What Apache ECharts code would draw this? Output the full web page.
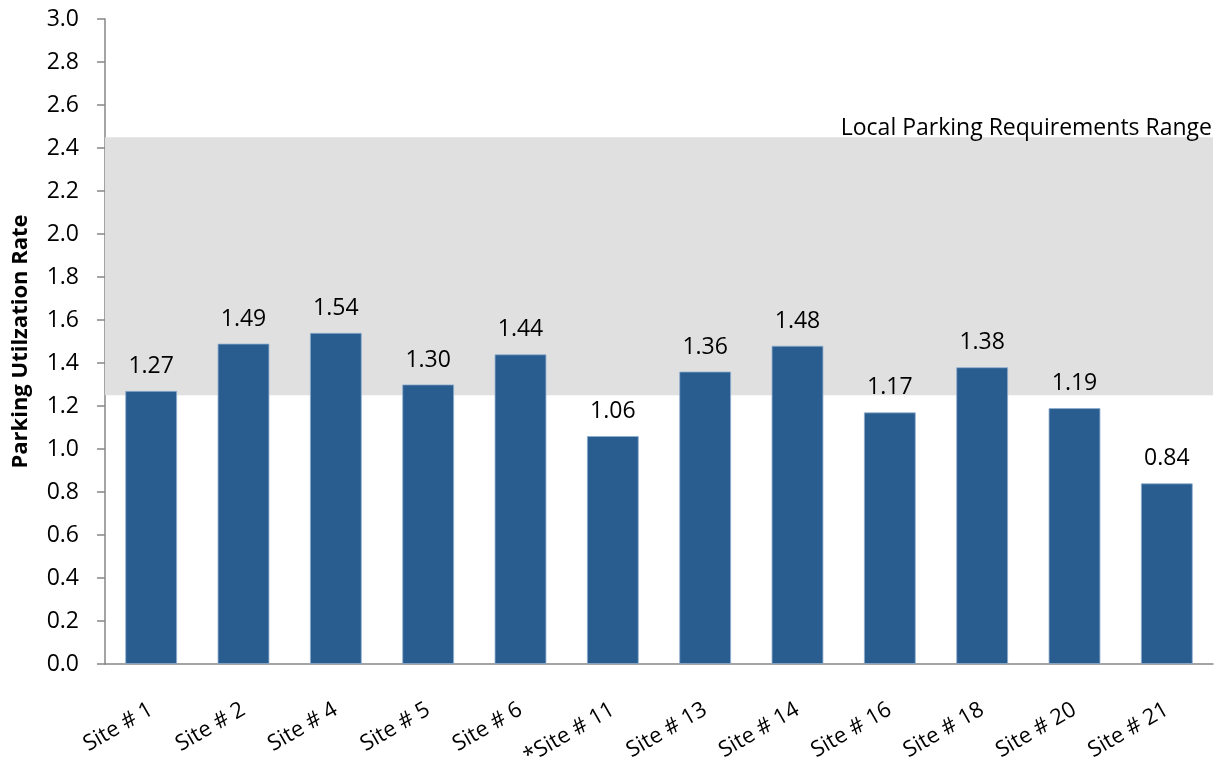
<!DOCTYPE html>
<html>
<head>
<meta charset="utf-8">
<script src="https://cdn.jsdelivr.net/npm/echarts@6/dist/echarts.min.js"></script>
<style>
  html, body { margin: 0; padding: 0; background: #fff; }
  #chart { width: 1217px; height: 759px; }
</style>
</head>
<body>
<div id="chart"></div>
<script>
// Parking utilization by site
const sites = ['Site # 1', 'Site # 2', 'Site # 4', 'Site # 5', 'Site # 6', '*Site # 11',
               'Site # 13', 'Site # 14', 'Site # 16', 'Site # 18', 'Site # 20', 'Site # 21'];
const utilization = [1.27, 1.49, 1.54, 1.30, 1.44, 1.06, 1.36, 1.48, 1.17, 1.38, 1.19, 0.84];
// Range of local parking requirements (low, high)
const requirementRange = [1.25, 2.45];
const yTicks = { min: 0, max: 3, interval: 0.2 };

const FONT = '"Open Sans", "Noto Sans", sans-serif';
const chart = echarts.init(document.getElementById('chart'));

chart.setOption({
  animation: false,
  grid: { left: 105, right: 4, top: 19, bottom: 95, containLabel: false, outerBoundsMode: 'none' },
  xAxis: {
    type: 'category',
    data: sites,
    axisLine: { lineStyle: { color: '#868686', width: 1.5 } },
    axisTick: { show: false },
    axisLabel: {
      rotate: 30, interval: 0, margin: 44,
      color: '#000', fontFamily: FONT, fontSize: 22
    }
  },
  yAxis: {
    type: 'value',
    min: yTicks.min, max: yTicks.max, interval: yTicks.interval,
    name: 'Parking Utilzation Rate',
    nameLocation: 'middle',
    nameGap: 73,
    nameTextStyle: { color: '#000', fontFamily: FONT, fontSize: 22, fontWeight: 'bold' },
    axisLine: { show: true, lineStyle: { color: '#868686', width: 1.5 } },
    axisTick: { show: true, length: 8, lineStyle: { color: '#868686', width: 1.5 } },
    splitLine: { show: false },
    axisLabel: {
      margin: 26, color: '#000', fontFamily: FONT, fontSize: 23,
      formatter: v => v.toFixed(1)
    }
  },
  series: [{
    type: 'bar',
    data: utilization,
    barWidth: '56%',
    itemStyle: { color: '#295D8F', borderColor: '#8FAED0', borderWidth: 0.8 },
    label: {
      show: true, position: 'top', distance: 13,
      color: '#000', fontFamily: FONT, fontSize: 23,
      formatter: p => p.value.toFixed(2)
    },
    markArea: {
      silent: true,
      itemStyle: { color: '#E0E0E0' },
      label: {
        show: true, position: 'insideTopRight', distance: 1, offset: [0, -21],
        color: '#000', fontFamily: FONT, fontSize: 23
      },
      data: [[
        { name: 'Local Parking Requirements Range', yAxis: requirementRange[0] },
        { yAxis: requirementRange[1] }
      ]]
    }
  }]
});
</script>
</body>
</html>
